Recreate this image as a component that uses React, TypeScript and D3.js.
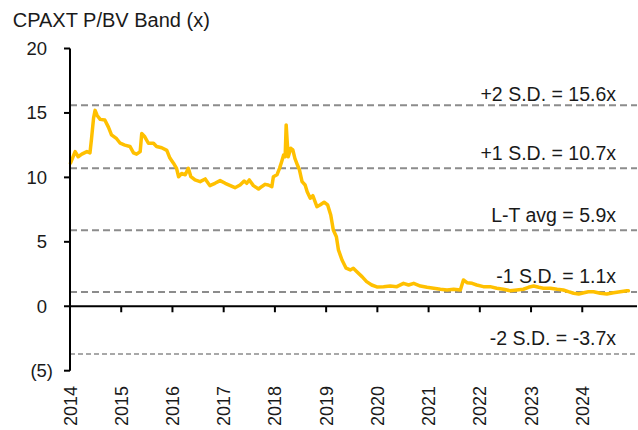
import React from "react";
import * as d3 from "d3";

const TITLE = "CPAXT P/BV Band (x)";

const years: number[] = [
  2014.01, 2014.10, 2014.16, 2014.23, 2014.33, 2014.39, 2014.42, 2014.46, 2014.49, 2014.53,
  2014.59, 2014.68, 2014.75, 2014.81, 2014.91, 2014.98, 2015.07, 2015.17, 2015.24, 2015.30,
  2015.37, 2015.40, 2015.46, 2015.53, 2015.63, 2015.69, 2015.79, 2015.89, 2015.95, 2016.02,
  2016.08, 2016.12, 2016.18, 2016.25, 2016.31, 2016.36, 2016.44, 2016.54, 2016.64, 2016.73,
  2016.83, 2016.93, 2017.03, 2017.13, 2017.22, 2017.32, 2017.40, 2017.45, 2017.50, 2017.58,
  2017.68, 2017.74, 2017.81, 2017.87, 2017.94, 2017.97, 2018.04, 2018.09, 2018.13, 2018.17,
  2018.20, 2018.22, 2018.24, 2018.26, 2018.31, 2018.35, 2018.39, 2018.44, 2018.48, 2018.53,
  2018.59, 2018.63, 2018.69, 2018.74, 2018.82, 2018.88, 2018.96, 2019.03, 2019.09, 2019.14,
  2019.20, 2019.24, 2019.31, 2019.39, 2019.47, 2019.53, 2019.60, 2019.70, 2019.79, 2019.89,
  2019.99, 2020.12, 2020.25, 2020.38, 2020.51, 2020.61, 2020.71, 2020.84, 2020.97, 2021.10,
  2021.23, 2021.36, 2021.49, 2021.62, 2021.68, 2021.75, 2021.85, 2021.94, 2022.07, 2022.20,
  2022.33, 2022.46, 2022.59, 2022.72, 2022.85, 2022.95, 2023.05, 2023.15, 2023.24, 2023.38,
  2023.51, 2023.63, 2023.73, 2023.83, 2023.93, 2024.03, 2024.12, 2024.22, 2024.35, 2024.48,
  2024.61, 2024.74, 2024.87, 2024.90,
];

const pbv: number[] = [
  11.1, 12.0, 11.6, 11.8, 12.0, 11.9, 13.0, 14.6, 15.2, 14.8,
  14.5, 14.45, 13.9, 13.3, 13.0, 12.65, 12.5, 12.4, 11.9, 11.8,
  12.0, 13.4, 13.15, 12.65, 12.65, 12.4, 12.3, 12.1, 11.5, 11.1,
  10.7, 10.05, 10.3, 10.2, 10.7, 10.05, 9.8, 9.67, 9.88, 9.36,
  9.54, 9.75, 9.54, 9.36, 9.2, 9.41, 9.72, 9.54, 9.8, 9.36,
  9.1, 9.28, 9.46, 9.41, 9.28, 10.05, 10.2, 10.7, 11.2, 11.74,
  11.6, 14.07, 12.77, 11.6, 12.26, 12.13, 11.48, 10.96, 10.57, 9.67,
  9.41, 8.89, 8.38, 8.58, 7.73, 7.86, 8.07, 7.86, 7.08, 5.92,
  5.4, 4.37, 3.59, 2.95, 2.82, 2.95, 2.68, 2.3, 1.91, 1.65,
  1.5, 1.52, 1.57, 1.52, 1.78, 1.65, 1.78, 1.57, 1.47, 1.4,
  1.32, 1.26, 1.32, 1.26, 2.04, 1.83, 1.78, 1.65, 1.52, 1.52,
  1.4, 1.32, 1.21, 1.26, 1.32, 1.47, 1.57, 1.47, 1.4, 1.4,
  1.32, 1.26, 1.13, 1.01, 0.95, 1.05, 1.13, 1.13, 1.01, 0.95,
  1.05, 1.13, 1.21, 1.2,
];

const bandValues: number[] = [15.6, 10.7, 5.9, 1.1, -3.7];
const bandLabels: string[] = [
  "+2 S.D. = 15.6x",
  "+1 S.D. = 10.7x",
  "L-T avg = 5.9x",
  "-1 S.D. = 1.1x",
  "-2 S.D. = -3.7x",
];

const yTicks: number[] = [-5, 0, 5, 10, 15, 20];
const yTickLabels: string[] = ["(5)", "0", "5", "10", "15", "20"];
const xTicks: number[] = [2014, 2015, 2016, 2017, 2018, 2019, 2020, 2021, 2022, 2023, 2024];

const W = 638;
const H = 430;
const FONT = "'Liberation Sans', Arial, sans-serif";

export default function App() {
  const x = d3.scaleLinear().domain([2014, 2025]).range([70, 633.5]);
  const y = d3.scaleLinear().domain([-5, 20]).range([370.7, 48.5]);

  const pts = years.map((yr, i) => [yr, pbv[i]] as [number, number]);
  const line = d3
    .line<[number, number]>()
    .x((d) => x(d[0]))
    .y((d) => y(d[1]))
    .curve(d3.curveLinear);

  const labelGap = [4.5, 8.5, 8.5, 9, 8.5];

  return (
    <>
      <style>{`body{margin:0;}`}</style>
      <svg width={W} height={H} style={{ display: "block", background: "#fff" }} fontFamily={FONT}>
        <text x={12.7} y={26.5} fontSize={20} fill="#1a1a1a">
          {TITLE}
        </text>

        {/* band lines */}
        {bandValues.map((v, i) => (
          <g key={"b" + i}>
            <line
              x1={x(2014)}
              x2={637}
              y1={y(v)}
              y2={y(v)}
              stroke="#8c8c8c"
              strokeWidth={i === 4 ? 1.6 : 2}
              strokeDasharray={i === 4 ? "5,3" : "7,4"}
            />
            <text
              x={616}
              y={y(v) - labelGap[i]}
              fontSize={19.5}
              textAnchor="end"
              fill="#1a1a1a"
            >
              {bandLabels[i]}
            </text>
          </g>
        ))}

        {/* series */}
        <path
          d={line(pts) || ""}
          fill="none"
          stroke="#FFC000"
          strokeWidth={3.5}
          strokeLinejoin="round"
          strokeLinecap="round"
        />

        {/* y axis */}
        <line x1={x(2014)} x2={x(2014)} y1={y(20)} y2={y(-5)} stroke="#000" strokeWidth={2} />
        {yTicks.map((t, i) => (
          <g key={"yt" + i}>
            <line x1={x(2014) - 6} x2={x(2014)} y1={y(t)} y2={y(t)} stroke="#000" strokeWidth={2} />
            <text
              x={t < 0 ? 53 : 47}
              y={y(t) + 6.3}
              fontSize={18.5}
              textAnchor="end"
              fill="#1a1a1a"
            >
              {yTickLabels[i]}
            </text>
          </g>
        ))}

        {/* x axis at zero */}
        <line x1={x(2014)} x2={637} y1={y(0)} y2={y(0)} stroke="#000" strokeWidth={2} />
        {xTicks.map((t) => (
          <g key={"xt" + t}>
            {t > 2014 && (
              <line x1={x(t)} x2={x(t)} y1={y(0)} y2={y(0) + 6} stroke="#000" strokeWidth={2} />
            )}
            <text
              transform={`translate(${x(t) + 6.5},386) rotate(-90)`}
              fontSize={18}
              textAnchor="end"
              fill="#1a1a1a"
            >
              {String(t)}
            </text>
          </g>
        ))}
      </svg>
    </>
  );
}
